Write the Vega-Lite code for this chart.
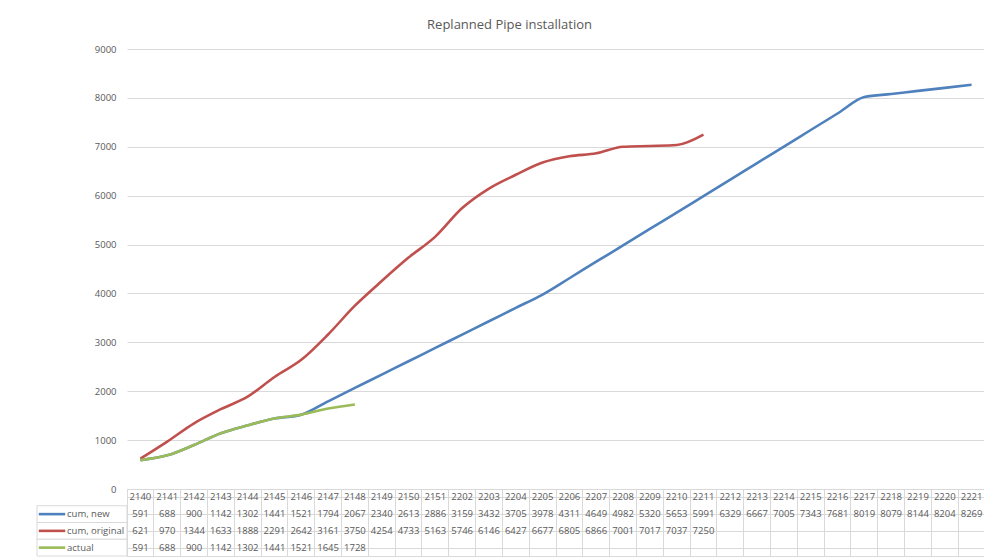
{
  "$schema": "https://vega.github.io/schema/vega-lite/v6.json",
  "padding": {"left": 33, "top": 19, "right": 0, "bottom": 3},
  "background": "white",
  "title": {"text": "Replanned Pipe installation", "anchor": "middle", "frame": "bounds", "fontSize": 13, "fontWeight": "normal", "font": "Open Sans", "color": "#595959", "offset": 12},
  "config": {
    "view": {"stroke": null},
    "font": "Open Sans",
    "axis": {"minExtent": 0}
  },
  "datasets": {
    "pipe": [
      {"week": "2140", "series": "cum, new", "value": 591},
      {"week": "2141", "series": "cum, new", "value": 688},
      {"week": "2142", "series": "cum, new", "value": 900},
      {"week": "2143", "series": "cum, new", "value": 1142},
      {"week": "2144", "series": "cum, new", "value": 1302},
      {"week": "2145", "series": "cum, new", "value": 1441},
      {"week": "2146", "series": "cum, new", "value": 1521},
      {"week": "2147", "series": "cum, new", "value": 1794},
      {"week": "2148", "series": "cum, new", "value": 2067},
      {"week": "2149", "series": "cum, new", "value": 2340},
      {"week": "2150", "series": "cum, new", "value": 2613},
      {"week": "2151", "series": "cum, new", "value": 2886},
      {"week": "2202", "series": "cum, new", "value": 3159},
      {"week": "2203", "series": "cum, new", "value": 3432},
      {"week": "2204", "series": "cum, new", "value": 3705},
      {"week": "2205", "series": "cum, new", "value": 3978},
      {"week": "2206", "series": "cum, new", "value": 4311},
      {"week": "2207", "series": "cum, new", "value": 4649},
      {"week": "2208", "series": "cum, new", "value": 4982},
      {"week": "2209", "series": "cum, new", "value": 5320},
      {"week": "2210", "series": "cum, new", "value": 5653},
      {"week": "2211", "series": "cum, new", "value": 5991},
      {"week": "2212", "series": "cum, new", "value": 6329},
      {"week": "2213", "series": "cum, new", "value": 6667},
      {"week": "2214", "series": "cum, new", "value": 7005},
      {"week": "2215", "series": "cum, new", "value": 7343},
      {"week": "2216", "series": "cum, new", "value": 7681},
      {"week": "2217", "series": "cum, new", "value": 8019},
      {"week": "2218", "series": "cum, new", "value": 8079},
      {"week": "2219", "series": "cum, new", "value": 8144},
      {"week": "2220", "series": "cum, new", "value": 8204},
      {"week": "2221", "series": "cum, new", "value": 8269},
      {"week": "2140", "series": "cum, original", "value": 621},
      {"week": "2141", "series": "cum, original", "value": 970},
      {"week": "2142", "series": "cum, original", "value": 1344},
      {"week": "2143", "series": "cum, original", "value": 1633},
      {"week": "2144", "series": "cum, original", "value": 1888},
      {"week": "2145", "series": "cum, original", "value": 2291},
      {"week": "2146", "series": "cum, original", "value": 2642},
      {"week": "2147", "series": "cum, original", "value": 3161},
      {"week": "2148", "series": "cum, original", "value": 3750},
      {"week": "2149", "series": "cum, original", "value": 4254},
      {"week": "2150", "series": "cum, original", "value": 4733},
      {"week": "2151", "series": "cum, original", "value": 5163},
      {"week": "2202", "series": "cum, original", "value": 5746},
      {"week": "2203", "series": "cum, original", "value": 6146},
      {"week": "2204", "series": "cum, original", "value": 6427},
      {"week": "2205", "series": "cum, original", "value": 6677},
      {"week": "2206", "series": "cum, original", "value": 6805},
      {"week": "2207", "series": "cum, original", "value": 6866},
      {"week": "2208", "series": "cum, original", "value": 7001},
      {"week": "2209", "series": "cum, original", "value": 7017},
      {"week": "2210", "series": "cum, original", "value": 7037},
      {"week": "2211", "series": "cum, original", "value": 7250},
      {"week": "2140", "series": "actual", "value": 591},
      {"week": "2141", "series": "actual", "value": 688},
      {"week": "2142", "series": "actual", "value": 900},
      {"week": "2143", "series": "actual", "value": 1142},
      {"week": "2144", "series": "actual", "value": 1302},
      {"week": "2145", "series": "actual", "value": 1441},
      {"week": "2146", "series": "actual", "value": 1521},
      {"week": "2147", "series": "actual", "value": 1645},
      {"week": "2148", "series": "actual", "value": 1728}
    ]
  },
  "columns": 2,
  "spacing": 0,
  "bounds": "flush",
  "concat": [
    {
      "width": 90,
      "height": 440,
      "data": {"values": []},
      "mark": "rect"
    },
    {
      "width": 858,
      "height": 440,
      "data": {"name": "pipe"},
      "encoding": {
        "x": {"field": "week", "type": "ordinal", "scale": {"type": "point", "padding": 0.5}, "axis": null},
        "y": {"field": "value", "type": "quantitative", "scale": {"domain": [0, 9000], "nice": false},
          "axis": {"values": [0, 1000, 2000, 3000, 4000, 5000, 6000, 7000, 8000, 9000], "format": "d", "title": null, "domain": false, "ticks": false,
            "labelPadding": 11, "labelFontSize": 9.5, "labelColor": "#595959", "gridColor": "#d9d9d9"}},
        "color": {"field": "series", "type": "nominal", "legend": null,
          "scale": {"domain": ["cum, new", "cum, original", "actual"], "range": ["#4F81BD", "#C0504D", "#9BBB59"]}}
      },
      "layer": [
        {"transform": [{"filter": "datum.series == 'cum, new'"}], "mark": {"type": "line", "strokeWidth": 2.6, "interpolate": "monotone"}},
        {"transform": [{"filter": "datum.series == 'cum, original'"}], "mark": {"type": "line", "strokeWidth": 2.6, "interpolate": "monotone"}},
        {"transform": [{"filter": "datum.series == 'actual'"}], "mark": {"type": "line", "strokeWidth": 2.6, "interpolate": "monotone"}}
      ]
    },
    {
      "width": 90,
      "height": 67,
      "data": {"name": "pipe"},
      "transform": [{"filter": "datum.week == '2140'"}],
      "encoding": {
        "y": {"field": "series", "type": "nominal", "axis": null,
          "scale": {"domain": ["hdr", "cum, new", "cum, original", "actual"], "paddingInner": 0, "paddingOuter": 0}}
      },
      "layer": [
        {"mark": {"type": "rect", "fill": "white", "stroke": "#d9d9d9", "strokeWidth": 1}},
        {"mark": {"type": "point", "shape": "stroke", "filled": false, "size": 700, "strokeWidth": 2.6, "opacity": 1},
          "encoding": {
            "x": {"datum": "k", "type": "nominal", "axis": null, "scale": {"type": "band", "domain": ["k", "l", "m"], "paddingInner": 0, "paddingOuter": 0}},
            "color": {"field": "series", "type": "nominal", "legend": null,
              "scale": {"domain": ["cum, new", "cum, original", "actual"], "range": ["#4F81BD", "#C0504D", "#9BBB59"]}}
          }},
        {"mark": {"type": "text", "align": "left", "fontSize": 9.5, "color": "#595959", "dx": -15},
          "encoding": {
            "x": {"datum": "l", "type": "nominal", "axis": null},
            "text": {"field": "series"}
          }}
      ]
    },
    {
      "width": 858,
      "height": 67,
      "view": {"stroke": "#d9d9d9"},
      "data": {"name": "pipe"},
      "encoding": {
        "x": {"field": "week", "type": "ordinal", "scale": {"type": "band", "paddingInner": 0, "paddingOuter": 0},
          "axis": {"labels": false, "ticks": false, "domain": false, "title": null, "grid": true, "bandPosition": 0, "gridColor": "#d9d9d9", "minExtent": 0, "maxExtent": 0}}
      },
      "layer": [
        {"transform": [{"filter": "datum.series == 'cum, new'"}],
          "mark": {"type": "text", "fontSize": 9.5, "color": "#595959"},
          "encoding": {
            "y": {"datum": "hdr", "type": "nominal",
              "scale": {"domain": ["hdr", "cum, new", "cum, original", "actual"], "paddingInner": 0, "paddingOuter": 0},
              "axis": {"labels": false, "ticks": false, "domain": false, "title": null, "grid": true, "bandPosition": 0, "gridColor": "#d9d9d9", "minExtent": 0, "maxExtent": 0}},
            "text": {"field": "week"}
          }},
        {"mark": {"type": "text", "fontSize": 9.5, "color": "#595959"},
          "encoding": {
            "y": {"field": "series", "type": "nominal"},
            "text": {"field": "value"}
          }}
      ]
    }
  ]
}
